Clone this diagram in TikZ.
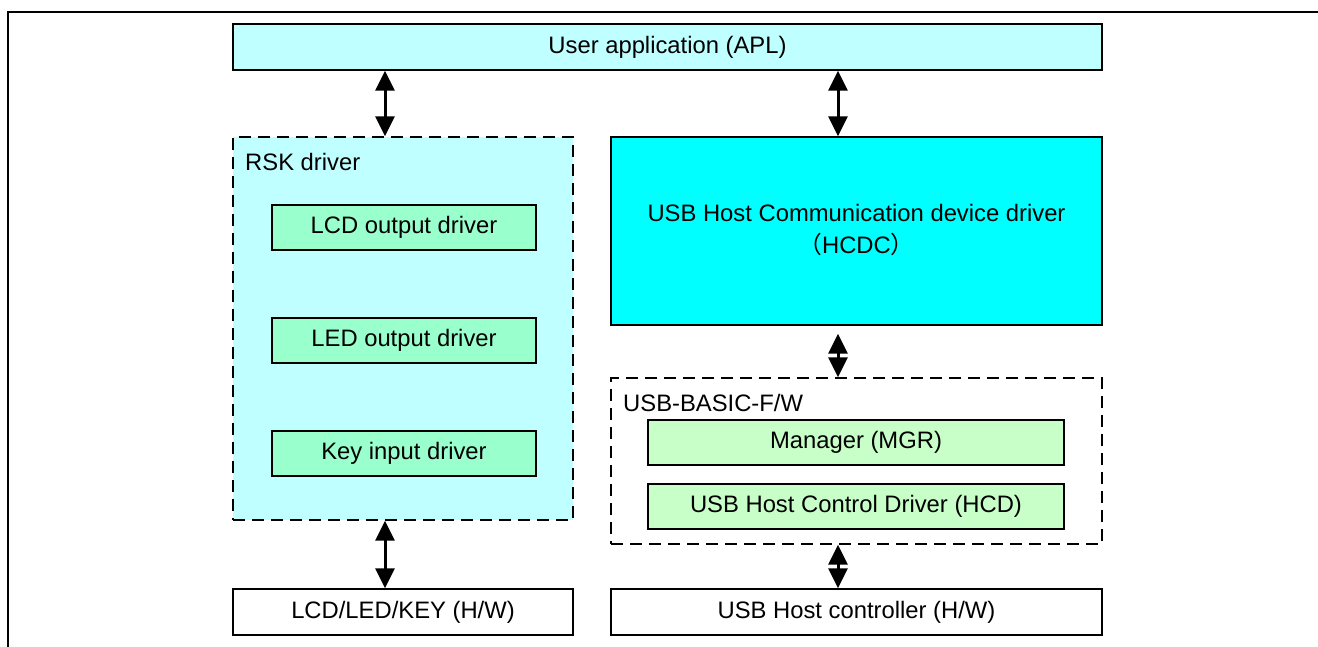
\documentclass[tikz,border=0pt]{standalone}
\usepackage{fontspec}
\setmainfont{Liberation Sans}
\newfontfamily\cjk{Noto Sans CJK SC}
\usetikzlibrary{arrows.meta}
\definecolor{aplcyan}{RGB}{192,255,255}
\definecolor{hcdccyan}{RGB}{0,255,255}
\definecolor{mint}{RGB}{153,255,204}
\definecolor{palegreen}{RGB}{200,255,200}
\newcommand{\lowtxt}[1]{\raisebox{-2.5pt}{#1}}
\tikzset{
  box/.style={draw=black, line width=1.3pt, inner sep=0pt, align=center,
    font=\fontsize{23.8}{33}\selectfont},
  dbox/.style={box, dash pattern=on 12pt off 7pt},
  dbl/.style={line width=3pt, {Triangle[width=19pt,length=20pt]}-{Triangle[width=19pt,length=20pt]}},
  lbl/.style={inner sep=0pt, anchor=base west, font=\fontsize{23.8}{27}\selectfont},
}
\begin{document}
\begin{tikzpicture}[x=1pt,y=-1pt]
\useasboundingbox (0,0) rectangle (1318,647);
% frame
\coordinate (fbl) at (8,647);
\coordinate (ftl) at (8,12);
\coordinate (ftr) at (1318,12);
\draw[line width=2pt] (fbl) -- (ftl) -- (ftr);
% boxes
\node[box, fill=aplcyan, minimum width=869pt, minimum height=46pt] (apl) at (667.5,47) {\lowtxt{User application (APL)}};
\node[dbox, fill=aplcyan, minimum width=340pt, minimum height=383pt] (rsk) at (403,328.5) {};
\node[lbl] (rsklbl) at (245,171) {RSK driver};
\node[box, fill=mint, minimum width=264pt, minimum height=45pt] (lcd) at (404,227.5) {\lowtxt{LCD output driver}};
\node[box, fill=mint, minimum width=264pt, minimum height=45pt] (led) at (404,340.5) {\lowtxt{LED output driver}};
\node[box, fill=mint, minimum width=264pt, minimum height=45pt] (key) at (404,453.5) {\lowtxt{Key input driver}};
\node[box, fill=hcdccyan, minimum width=491pt, minimum height=188pt] (hcdc) at (856.5,231) {\lowtxt{\begin{tabular}{@{}c@{}}USB Host Communication device driver\\[-0.5pt]{\cjk （}HCDC{\cjk ）}\end{tabular}}};
\node[dbox, minimum width=491pt, minimum height=166pt] (basic) at (856.5,461) {};
\node[lbl] (basiclbl) at (623,411) {USB-BASIC-F/W};
\node[box, fill=palegreen, minimum width=416pt, minimum height=45pt] (mgr) at (856,442.5) {\lowtxt{Manager (MGR)}};
\node[box, fill=palegreen, minimum width=416pt, minimum height=45pt] (hcd) at (856,506.5) {\lowtxt{USB Host Control Driver (HCD)}};
\node[box, fill=white, minimum width=340pt, minimum height=46pt] (lhw) at (403,612) {\lowtxt{LCD/LED/KEY (H/W)}};
\node[box, fill=white, minimum width=491pt, minimum height=46pt] (uhw) at (856.5,612) {\lowtxt{USB Host controller (H/W)}};
% connectors
\coordinate (xl) at (385,0);
\coordinate (xr) at (838,0);
\draw[dbl] (xl |- apl.south) -- (xl |- rsk.north);
\draw[dbl] (xr |- apl.south) -- (xr |- hcdc.north);
\draw[dbl] ([yshift=-8pt]xr |- hcdc.south) -- (xr |- basic.north);
\draw[dbl] (xl |- rsk.south) -- (xl |- lhw.north);
\draw[dbl] (xr |- basic.south) -- (xr |- uhw.north);
\end{tikzpicture}
\end{document}
